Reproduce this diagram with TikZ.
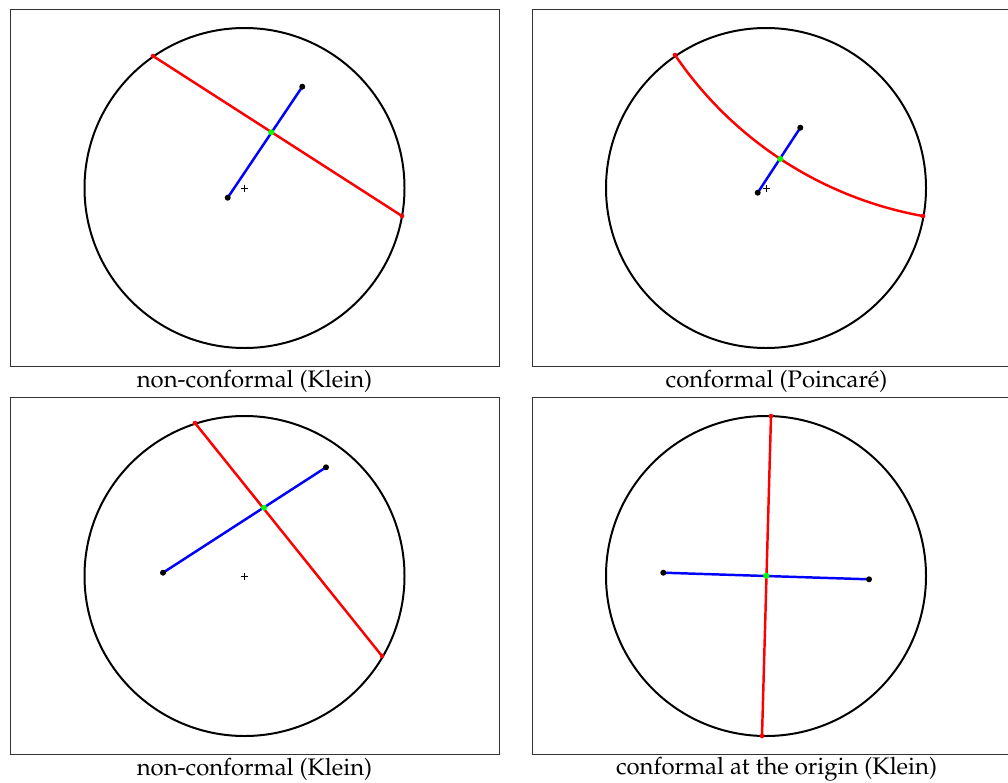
\documentclass[tikz,border=0pt]{standalone}
\usepackage[T1]{fontenc}
\usepackage{mathpazo}
\usetikzlibrary{calc}

\begin{document}
\begin{tikzpicture}[
	x=0.03cm, y=-0.03cm,
	frame/.style={draw=black!80, line width=0.8pt},
	disk/.style={draw=black, line width=1.7pt},
	chord/.style={draw=red, line width=2.1pt},
	seg/.style={draw=blue, line width=2.1pt},
	tip/.style={fill=black},
	rtip/.style={fill=red},
	meet/.style={fill=green},
	caption/.style={font=\fontsize{20.4}{24}\selectfont, inner sep=0pt}
	]
	\useasboundingbox (0,0) rectangle (1008,782);

	% frames and captions
	\draw [frame] (10,9.5) rectangle (499.5,366);
	\draw [frame] (532,9.5) rectangle (1021,366);
	\draw [frame] (10,397) rectangle (499.5,754);
	\draw [frame] (532,397) rectangle (1021,754);
	\node (capA) [caption] at (254.5,381.5) {non-conformal (Klein)};
	\node (capB) [caption] at (776.5,381.5) {conformal (Poincar\'e)};
	\node (capC) [caption] at (254.5,769.5) {non-conformal (Klein)};
	\node (capD) [caption] at (776.5,769.5) {conformal at the origin (Klein)};

	% top left
	\coordinate (oA) at (244.5,188);
	\coordinate (rA1) at (153,56);
	\coordinate (rA2) at (402,216);
	\coordinate (bA1) at (227.7,197.7);
	\coordinate (bA2) at (302.3,86.7);
	\coordinate (gA) at (271.3,132.3);
	\draw [disk] (oA) circle (160);
	\draw [thin] ($(oA)+(-3.5,0)$) -- ($(oA)+(3.5,0)$) ($(oA)+(0,-3.5)$) -- ($(oA)+(0,3.5)$);
	\draw [chord] (rA1) -- (rA2);
	\draw [seg] (bA1) -- (bA2);
	\fill [rtip] (rA1) circle (2.3) (rA2) circle (2.3);
	\fill [tip] (bA1) circle (3) (bA2) circle (3);
	\fill [meet] (gA) circle (3);

	% top right
	\coordinate (oB) at (766,188);
	\coordinate (rB1) at (675,55);
	\coordinate (rB2) at (923,216);
	\coordinate (bB1) at (757.7,192.7);
	\coordinate (bB2) at (800.3,127.7);
	\coordinate (gB) at (780.3,159);
	\draw [disk] (oB) circle (160);
	\draw [thin] ($(oB)+(-3.5,0)$) -- ($(oB)+(3.5,0)$) ($(oB)+(0,-3.5)$) -- ($(oB)+(0,3.5)$);
	\draw [chord] (rB1) arc [start angle=145.8, end angle=100.2, radius=381.5];
	\draw [seg] (bB1) -- (bB2);
	\fill [rtip] (rB1) circle (2.3) (rB2) circle (2.3);
	\fill [tip] (bB1) circle (3) (bB2) circle (3);
	\fill [meet] (gB) circle (3);

	% bottom left
	\coordinate (oC) at (244.5,576);
	\coordinate (rC1) at (195,423);
	\coordinate (rC2) at (382,656);
	\coordinate (bC1) at (163,572.7);
	\coordinate (bC2) at (326,467.3);
	\coordinate (gC) at (264,507.7);
	\draw [disk] (oC) circle (160);
	\draw [thin] ($(oC)+(-3.5,0)$) -- ($(oC)+(3.5,0)$) ($(oC)+(0,-3.5)$) -- ($(oC)+(0,3.5)$);
	\draw [chord] (rC1) -- (rC2);
	\draw [seg] (bC1) -- (bC2);
	\fill [rtip] (rC1) circle (2.3) (rC2) circle (2.3);
	\fill [tip] (bC1) circle (3) (bC2) circle (3);
	\fill [meet] (gC) circle (3);

	% bottom right
	\coordinate (oD) at (766,576);
	\coordinate (rD1) at (771,416);
	\coordinate (rD2) at (762,736);
	\coordinate (bD1) at (663.3,572.7);
	\coordinate (bD2) at (869,579.3);
	\coordinate (gD) at (766.3,575.7);
	\draw [disk] (oD) circle (160);
	\draw [chord] (rD1) -- (rD2);
	\draw [seg] (bD1) -- (bD2);
	\fill [rtip] (rD1) circle (2.3) (rD2) circle (2.3);
	\fill [tip] (bD1) circle (3) (bD2) circle (3);
	\fill [meet] (gD) circle (3);
\end{tikzpicture}
\end{document}
